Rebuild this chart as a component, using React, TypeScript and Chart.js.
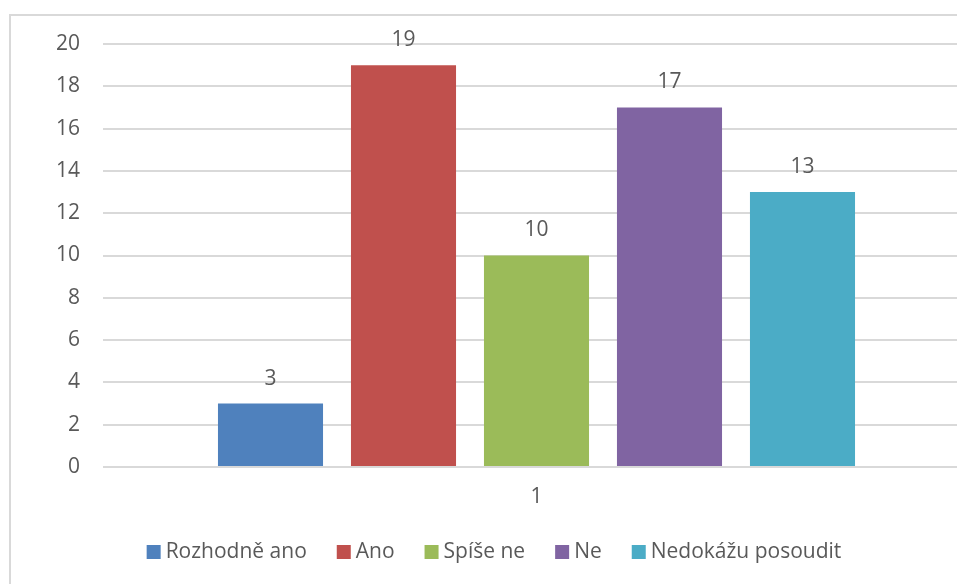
import React, { useEffect, useRef } from "react";
import { Chart, registerables } from "chart.js";

Chart.register(...registerables);

const categories = ["1"];
const seriesNames = ["Rozhodně ano", "Ano", "Spíše ne", "Ne", "Nedokážu posoudit"];
const seriesValues = [3, 19, 10, 17, 13];
const seriesColors = ["#4F81BD", "#C0504D", "#9BBB59", "#8064A2", "#4BACC6"];
const yTicks = [0, 2, 4, 6, 8, 10, 12, 14, 16, 18, 20];

const FONT = "'Open Sans', 'Noto Sans', sans-serif";
const TEXT = "#595959";
const FS = 21;

const borderPlugin = {
  id: "frameBorder",
  beforeDraw(chart: any) {
    const ctx = chart.ctx;
    ctx.save();
    ctx.fillStyle = "#ffffff";
    ctx.fillRect(0, 0, chart.width, chart.height);
    ctx.strokeStyle = "#d9d9d9";
    ctx.lineWidth = 2;
    ctx.strokeRect(10, 15, chart.width + 20, chart.height + 20);
    ctx.restore();
  },
};

const valueLabels = {
  id: "valueLabels",
  afterDatasetsDraw(chart: any) {
    const ctx = chart.ctx;
    ctx.save();
    ctx.font = `${FS}px ${FONT}`;
    ctx.fillStyle = TEXT;
    ctx.textAlign = "center";
    ctx.textBaseline = "middle";
    chart.data.datasets.forEach((ds: any, i: number) => {
      const meta = chart.getDatasetMeta(i);
      meta.data.forEach((bar: any, j: number) => {
        ctx.fillText(String(ds.data[j]), bar.x, bar.y - 25);
      });
    });
    ctx.restore();
  },
};

const customLegend = {
  id: "customLegend",
  afterDraw(chart: any) {
    const ctx = chart.ctx;
    const box = 14;
    const gap = 5;
    const itemGap = 30;
    const centerX = 494;
    const centerY = 552;
    ctx.save();
    ctx.font = `${FS}px ${FONT}`;
    const items = chart.data.datasets.map((ds: any) => ({
      text: ds.label,
      color: ds.backgroundColor,
      w: ctx.measureText(ds.label).width,
    }));
    const total =
      items.reduce((s: number, it: any) => s + box + gap + it.w, 0) + itemGap * (items.length - 1);
    let x = centerX - total / 2;
    ctx.textBaseline = "middle";
    ctx.textAlign = "left";
    items.forEach((it: any) => {
      ctx.fillStyle = it.color;
      ctx.fillRect(x, centerY - box / 2, box, box);
      ctx.fillStyle = TEXT;
      ctx.fillText(it.text, x + box + gap, centerY);
      x += box + gap + it.w + itemGap;
    });
    ctx.restore();
  },
};

export default function App() {
  const ref = useRef<HTMLCanvasElement>(null);
  useEffect(() => {
    if (!ref.current) return;
    const chart = new Chart(ref.current, {
      type: "bar",
      data: {
        labels: categories,
        datasets: seriesNames.map((name, i) => ({
          label: name,
          data: [seriesValues[i]],
          backgroundColor: seriesColors[i],
          borderWidth: 0,
          categoryPercentage: 0.767,
          barPercentage: 0.79,
        })),
      },
      options: {
        responsive: false,
        animation: false,
        devicePixelRatio: 1,
        layout: { padding: { left: 18, right: 18, top: 44, bottom: 83 } },
        plugins: {
          legend: { display: false },
          tooltip: { enabled: false },
        },
        scales: {
          x: {
            grid: { display: false, drawTicks: false },
            border: { display: false },
            ticks: { color: TEXT, font: { family: FONT, size: FS }, padding: 17 },
            afterFit: (s: any) => {
              s.height = 50;
            },
          },
          y: {
            min: 0,
            max: 20,
            afterBuildTicks: (s: any) => {
              s.ticks = yTicks.map((v) => ({ value: v }));
            },
            grid: { color: "#d9d9d9", lineWidth: 2, drawTicks: false },
            border: { display: false },
            ticks: { color: TEXT, font: { family: FONT, size: FS }, padding: 23 },
            afterFit: (s: any) => {
              s.width = 85;
            },
          },
        },
      },
      plugins: [borderPlugin, valueLabels, customLegend],
    });
    return () => chart.destroy();
  }, []);
  return (
    <div
      style={{
        position: "fixed",
        left: 0,
        top: 0,
        width: 957,
        height: 584,
        overflow: "hidden",
        background: "#fff",
      }}
    >
      <canvas ref={ref} width={988} height={600} style={{ display: "block" }} />
    </div>
  );
}
